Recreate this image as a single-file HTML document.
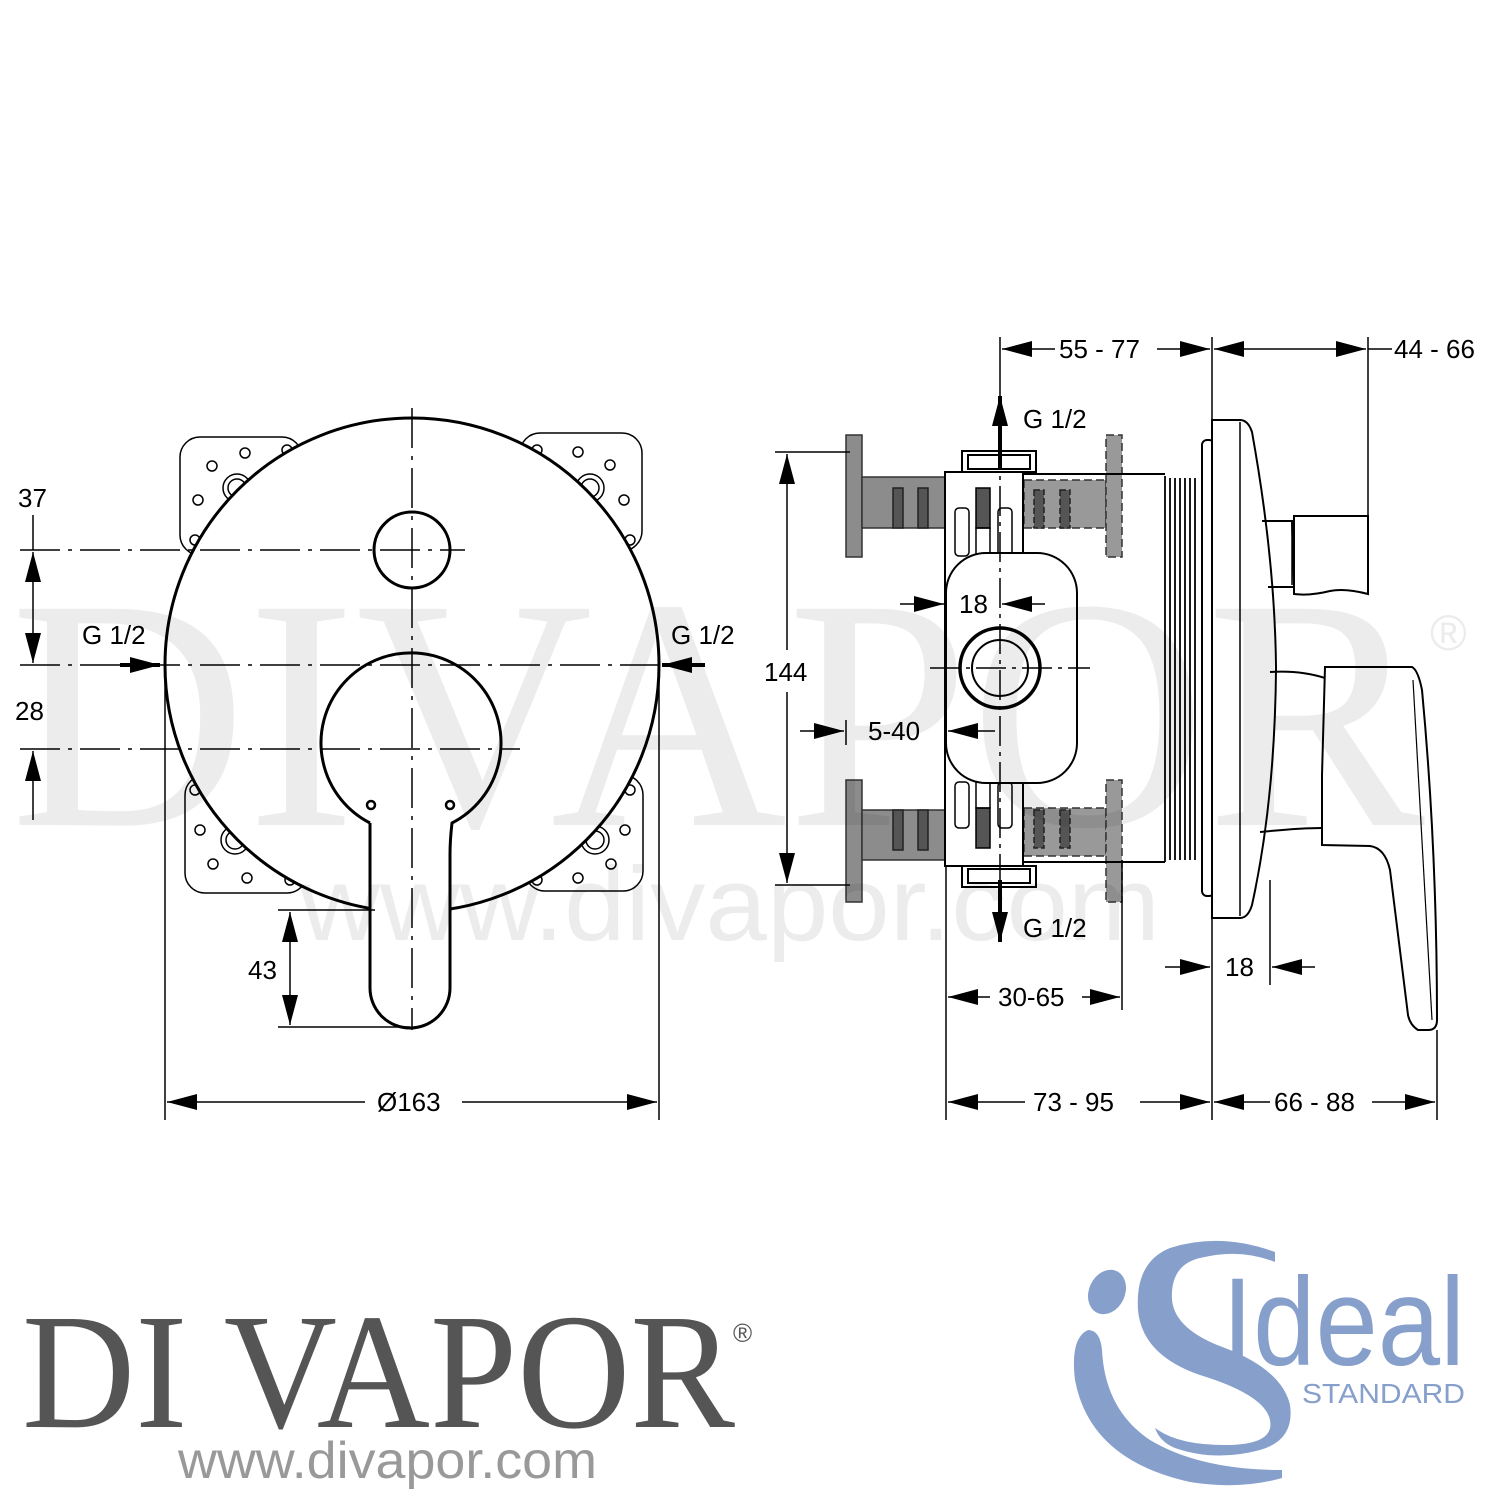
<!DOCTYPE html>
<html><head><meta charset="utf-8"><style>html,body{margin:0;padding:0;background:#fff}svg{display:block}.wm{mix-blend-mode:multiply}</style></head>
<body>
<svg width="1500" height="1500" viewBox="0 0 1500 1500" xmlns="http://www.w3.org/2000/svg">
<defs>
<marker id="b" viewBox="0 0 30 16" refX="30" refY="8" markerWidth="30" markerHeight="16" markerUnits="userSpaceOnUse" orient="auto-start-reverse"><path d="M0,0L30,8L0,16z" fill="#000"/></marker>
</defs>

<g fill="none" stroke="#000" stroke-width="2" font-family="Liberation Sans, sans-serif">
<g stroke-width="1.5" fill="#fff">
<rect x="180" y="437" width="122" height="118" rx="20"/>
<rect x="520" y="433" width="122" height="118" rx="20"/>
<rect x="185" y="775" width="122" height="118" rx="20"/>
<rect x="525" y="775" width="118" height="116" rx="20"/>
</g>
<g stroke-width="1.5">
<circle cx="245" cy="453" r="5"/><circle cx="212" cy="466" r="5"/><circle cx="198" cy="500" r="5"/><circle cx="287" cy="450" r="5"/><circle cx="195" cy="540" r="5"/>
<circle cx="237" cy="488" r="14"/><circle cx="237" cy="488" r="9"/>
<circle cx="578" cy="452" r="5"/><circle cx="610" cy="465" r="5"/><circle cx="624" cy="500" r="5"/><circle cx="537" cy="450" r="5"/><circle cx="630" cy="540" r="5"/>
<circle cx="590" cy="488" r="14"/><circle cx="590" cy="488" r="9"/>
<circle cx="200" cy="830" r="5"/><circle cx="213" cy="864" r="5"/><circle cx="247" cy="878" r="5"/><circle cx="290" cy="880" r="5"/><circle cx="195" cy="790" r="5"/>
<circle cx="235" cy="840" r="14"/><circle cx="235" cy="840" r="9"/>
<circle cx="625" cy="830" r="5"/><circle cx="611" cy="864" r="5"/><circle cx="578" cy="878" r="5"/><circle cx="537" cy="880" r="5"/><circle cx="630" cy="790" r="5"/>
<circle cx="595" cy="840" r="14"/><circle cx="595" cy="840" r="9"/>
</g>
<circle cx="412" cy="665" r="247" stroke-width="3" fill="#fff"/>
<circle cx="412" cy="550" r="38" stroke-width="3"/>
<path d="M370,823 A90,90 0 1 1 452,823 Q450,840 450,855 L450,988 A40,40 0 0 1 370,988 L370,855 Q370,840 370,823" stroke-width="3" fill="#fff"/>
<circle cx="371" cy="805" r="4" stroke-width="2.5"/><circle cx="450" cy="805" r="4" stroke-width="2.5"/>
<g stroke-width="1.5" stroke-dasharray="40,8,4,8">
<line x1="412" y1="408" x2="412" y2="1030"/>
<line x1="20" y1="550" x2="465" y2="550"/>
<line x1="20" y1="665" x2="660" y2="665"/>
<line x1="20" y1="749" x2="520" y2="749"/>
</g>
<g stroke-width="1.5">
<line x1="33" y1="515" x2="33" y2="550"/>
<line x1="33" y1="552" x2="33" y2="663" marker-start="url(#b)" marker-end="url(#b)"/>
<line x1="33" y1="820" x2="33" y2="751" marker-end="url(#b)"/>
<line x1="120" y1="665" x2="160" y2="665" stroke-width="4" marker-end="url(#b)"/>
<line x1="705" y1="665" x2="662" y2="665" stroke-width="4" marker-end="url(#b)"/>
<line x1="278" y1="910" x2="375" y2="910"/>
<line x1="278" y1="1027" x2="410" y2="1027"/>
<line x1="290" y1="912" x2="290" y2="1025" marker-start="url(#b)" marker-end="url(#b)"/>
<line x1="165" y1="668" x2="165" y2="1120"/>
<line x1="659" y1="668" x2="659" y2="1120"/>
<line x1="167" y1="1102" x2="365" y2="1102" marker-start="url(#b)"/>
<line x1="462" y1="1102" x2="657" y2="1102" marker-end="url(#b)"/>
</g>
<g fill="#000" stroke="none" font-size="26">
<text x="18" y="507">37</text>
<text x="15" y="720">28</text>
<text x="248" y="979">43</text>
<text x="82" y="644">G 1/2</text>
<text x="671" y="644">G 1/2</text>
<text x="377" y="1111">Ø163</text>
</g>

<g fill="#8c8c8c" stroke="#333" stroke-width="1.5">
<rect x="846" y="435" width="16" height="122"/>
<rect x="862" y="477" width="84" height="51"/>
<rect x="846" y="780" width="16" height="122"/>
<rect x="862" y="810" width="84" height="50"/>
</g>
<g fill="#555" stroke="#222" stroke-width="1.5">
<rect x="893" y="488" width="10" height="40"/><rect x="918" y="488" width="10" height="40"/>
<rect x="893" y="810" width="10" height="40"/><rect x="918" y="810" width="10" height="40"/>
</g>
<g fill="#999" stroke="#333" stroke-width="1.5" stroke-dasharray="8,4">
<rect x="1024" y="480" width="82" height="48"/>
<rect x="1106" y="435" width="16" height="122"/>
<rect x="1024" y="808" width="82" height="48"/>
<rect x="1106" y="780" width="16" height="122"/>
</g>
<g fill="#555" stroke="#222" stroke-width="1.5" stroke-dasharray="6,3">
<rect x="1034" y="490" width="10" height="38"/><rect x="1060" y="490" width="10" height="38"/>
<rect x="1034" y="810" width="10" height="38"/><rect x="1060" y="810" width="10" height="38"/>
</g>
<line x1="1024" y1="474" x2="1165" y2="474"/>
<line x1="1024" y1="862" x2="1165" y2="862"/>
<g stroke-width="1.8">
<line x1="1165" y1="476" x2="1165" y2="862"/><line x1="1170" y1="478" x2="1170" y2="860"/><line x1="1175" y1="478" x2="1175" y2="860"/><line x1="1180" y1="478" x2="1180" y2="860"/><line x1="1185" y1="478" x2="1185" y2="860"/><line x1="1190" y1="478" x2="1190" y2="860"/><line x1="1195" y1="478" x2="1195" y2="860"/>
</g>
<rect x="945" y="472" width="78" height="394" fill="#fff"/>
<rect x="962" y="451" width="74" height="21" fill="#fff"/><rect x="968" y="455" width="62" height="14"/>
<rect x="962" y="866" width="74" height="21" fill="#fff"/><rect x="968" y="869" width="62" height="14"/>
<g stroke-width="1.5">
<rect x="955" y="508" width="14" height="48" rx="4"/><rect x="998" y="508" width="14" height="48" rx="4"/>
<rect x="976" y="488" width="14" height="40" fill="#555"/><rect x="976" y="528" width="14" height="28"/>
<rect x="955" y="782" width="14" height="46" rx="4"/><rect x="998" y="782" width="14" height="46" rx="4"/>
<rect x="976" y="808" width="14" height="40" fill="#555"/><rect x="976" y="782" width="14" height="26"/>
</g>
<rect x="946" y="553" width="131" height="230" rx="40" fill="#fff"/>
<circle cx="1000" cy="668" r="40" stroke-width="3.5"/>
<circle cx="1000" cy="668" r="28"/>
<g stroke-width="1.5" stroke-dasharray="30,6,4,6">
<line x1="1000" y1="440" x2="1000" y2="880"/>
<line x1="930" y1="668" x2="1090" y2="668"/>
</g>
<rect x="1202" y="440" width="12" height="456" rx="5"/>
<path d="M1212,420 L1240,420 Q1248,420 1252,432 Q1275,560 1276,668 Q1275,800 1252,905 Q1248,918 1240,918 L1212,918 Z" fill="#fff"/>
<line x1="1240" y1="422" x2="1240" y2="916" stroke-width="1.5"/>
<path d="M1262,521 L1292,521 L1294,587 L1268,587" />
<line x1="1292" y1="523" x2="1292" y2="585" stroke-width="1.5"/>
<path d="M1294,516 L1368,516 L1368,594 Q1345,588 1330,591 Q1310,596 1294,594 Z" fill="#fff"/>
<path d="M1270,672 Q1300,670 1325,678" />
<path d="M1260,832 Q1300,828 1322,828"/>
<path d="M1325,667 L1412,667 Q1418,670 1422,690 Q1437,850 1437,1020 Q1437,1030 1428,1030 L1418,1030 Q1410,1025 1408,1015 L1390,870 Q1385,848 1370,846 L1322,845 L1322,775 Z" fill="#fff"/>
<line x1="1413" y1="680" x2="1432" y2="1020" stroke-width="1.2"/>
<g stroke-width="1.5">
<line x1="1000" y1="337" x2="1000" y2="440"/>
<line x1="1212" y1="337" x2="1212" y2="1120"/>
<line x1="1368" y1="337" x2="1368" y2="516"/>
<line x1="1002" y1="349" x2="1055" y2="349" marker-start="url(#b)"/>
<line x1="1157" y1="349" x2="1210" y2="349" marker-end="url(#b)"/>
<line x1="1214" y1="349" x2="1366" y2="349" marker-start="url(#b)" marker-end="url(#b)"/>
<line x1="1368" y1="349" x2="1392" y2="349"/>
<line x1="1000" y1="470" x2="1000" y2="396" stroke-width="4" marker-end="url(#b)"/>
<line x1="1000" y1="880" x2="1000" y2="942" stroke-width="4" marker-end="url(#b)"/>
<line x1="775" y1="452" x2="850" y2="452"/>
<line x1="775" y1="885" x2="850" y2="885"/>
<line x1="787" y1="454" x2="787" y2="650" marker-start="url(#b)"/>
<line x1="787" y1="692" x2="787" y2="883" marker-end="url(#b)"/>
<line x1="900" y1="604" x2="944" y2="604" marker-end="url(#b)"/>
<line x1="1045" y1="604" x2="1002" y2="604" marker-end="url(#b)"/>
<line x1="800" y1="731" x2="844" y2="731" marker-end="url(#b)"/>
<line x1="846" y1="720" x2="846" y2="745"/>
<line x1="995" y1="731" x2="948" y2="731" marker-end="url(#b)"/>
<line x1="946" y1="866" x2="946" y2="1120"/>
<line x1="1122" y1="860" x2="1122" y2="1010"/>
<line x1="948" y1="997" x2="990" y2="997" marker-start="url(#b)"/>
<line x1="1082" y1="997" x2="1120" y2="997" marker-end="url(#b)"/>
<line x1="1165" y1="967" x2="1210" y2="967" marker-end="url(#b)"/>
<line x1="1315" y1="967" x2="1272" y2="967" marker-end="url(#b)"/>
<line x1="1270" y1="880" x2="1270" y2="985"/>
<line x1="1437" y1="1030" x2="1437" y2="1120"/>
<line x1="948" y1="1102" x2="1025" y2="1102" marker-start="url(#b)"/>
<line x1="1140" y1="1102" x2="1210" y2="1102" marker-end="url(#b)"/>
<line x1="1214" y1="1102" x2="1270" y2="1102" marker-start="url(#b)"/>
<line x1="1372" y1="1102" x2="1435" y2="1102" marker-end="url(#b)"/>
</g>
<g fill="#000" stroke="none" font-size="26">
<text x="1059" y="358">55 - 77</text>
<text x="1394" y="358">44 - 66</text>
<text x="1023" y="428">G 1/2</text>
<text x="1023" y="937">G 1/2</text>
<text x="764" y="681">144</text>
<text x="959" y="613">18</text>
<text x="868" y="740">5-40</text>
<text x="998" y="1006">30-65</text>
<text x="1225" y="976">18</text>
<text x="1033" y="1111">73 - 95</text>
<text x="1274" y="1111">66 - 88</text>
</g>
</g>

<!-- watermark on top, multiply blend -->
<g class="wm">
<text x="10" y="825" font-family="Liberation Serif, serif" font-size="330" fill="#ececec" textLength="1415" lengthAdjust="spacingAndGlyphs">DIVAPOR</text>
<text x="1430" y="650" font-family="Liberation Sans, sans-serif" font-size="50" fill="#ececec">®</text>
<text x="300" y="940" font-family="Liberation Sans, sans-serif" font-size="105" fill="#ececec" textLength="860" lengthAdjust="spacingAndGlyphs">www.divapor.com</text>
</g>

<text x="22" y="1427" font-family="Liberation Serif, serif" font-size="165" fill="#555" textLength="713" lengthAdjust="spacingAndGlyphs">DI VAPOR</text>
<text x="733" y="1342" font-family="Liberation Sans, sans-serif" font-size="26" fill="#555">®</text>
<text x="178" y="1478" font-family="Liberation Sans, sans-serif" font-size="52" fill="#999" textLength="419" lengthAdjust="spacingAndGlyphs">www.divapor.com</text>

<g fill="#869fcb" stroke="none">
<ellipse cx="1107" cy="1292" rx="18" ry="23" transform="rotate(25 1107 1292)"/>
<path d="M1088,1330 Q1070,1338 1075,1380 Q1090,1460 1190,1482 Q1240,1490 1282,1478 L1282,1470 Q1200,1470 1150,1440 Q1105,1410 1102,1350 Q1100,1330 1088,1330 Z"/>
<path d="M1275,1252 Q1220,1232 1170,1248 Q1135,1262 1138,1310 Q1142,1355 1200,1375 Q1265,1395 1270,1420 Q1275,1445 1225,1445 Q1180,1445 1158,1430 L1155,1428 Q1160,1442 1175,1448 Q1215,1462 1260,1450 Q1295,1440 1290,1405 Q1282,1370 1225,1348 Q1175,1330 1172,1300 Q1170,1265 1200,1258 Q1240,1248 1275,1262 Z"/>
</g>
<text x="1222" y="1365" font-family="Liberation Sans, sans-serif" font-size="125" fill="#869fcb" textLength="243" lengthAdjust="spacingAndGlyphs">Ideal</text>
<text x="1302" y="1403" font-family="Liberation Sans, sans-serif" font-size="28" fill="#869fcb" textLength="163" lengthAdjust="spacingAndGlyphs">STANDARD</text>
</svg>
</body></html>
